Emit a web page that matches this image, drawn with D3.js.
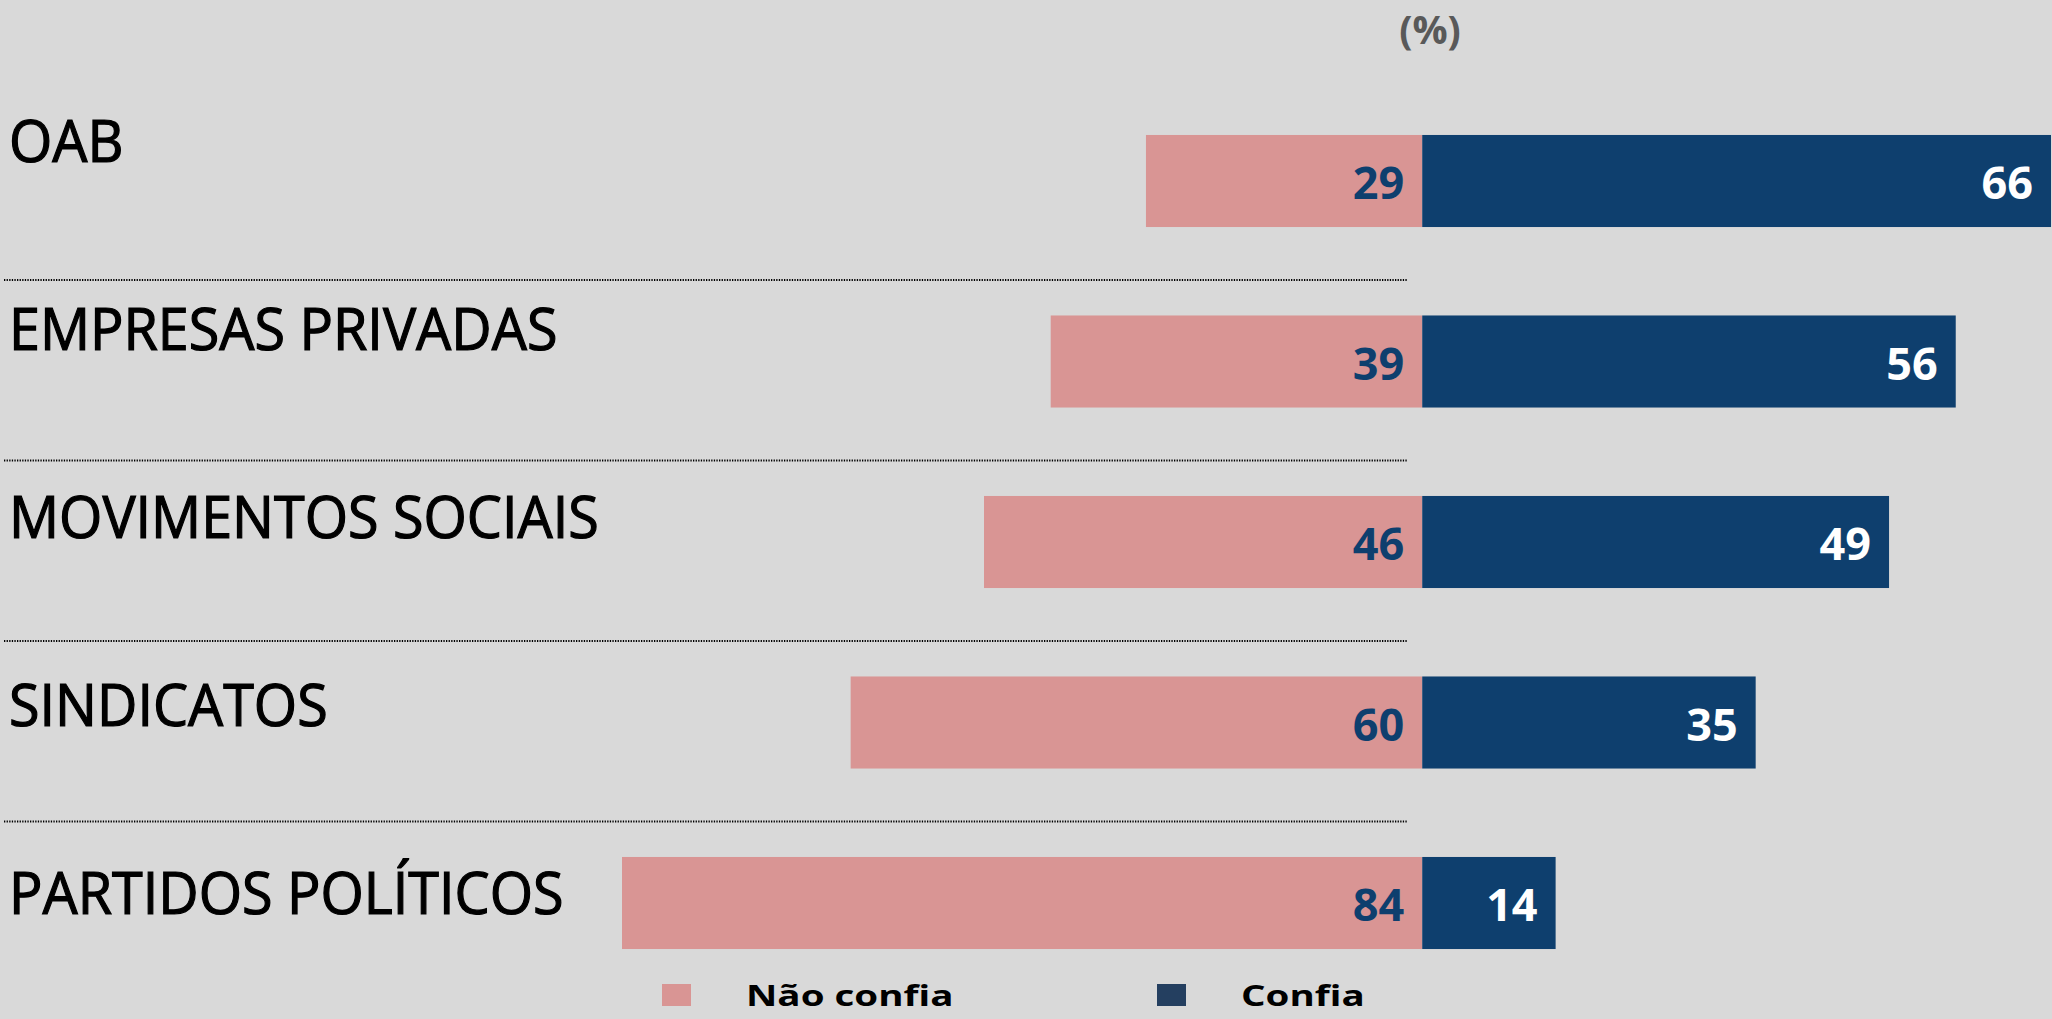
<!DOCTYPE html>
<html>
<head>
<meta charset="utf-8">
<script src="https://cdn.jsdelivr.net/npm/d3@7"></script>
<style>
  body { margin: 0; background: #d9d9d9; }
  svg { display: block; }
</style>
</head>
<body>
<svg id="chart"></svg>
<script>
// Data
const categories = ["OAB", "EMPRESAS PRIVADAS", "MOVIMENTOS SOCIAIS", "SINDICATOS", "PARTIDOS POLÍTICOS"];
const naoConfia = [29, 39, 46, 60, 84];
const confia = [66, 56, 49, 35, 14];
const seriesNames = ["Não confia", "Confia"];
const unitLabel = "(%)";

const width = 2052, height = 1019;
const pink = "#d99594";
const navy = "#0e3f6e";

const svg = d3.select("#chart")
    .attr("width", width)
    .attr("height", height)
    .style("background", "#d9d9d9");

// Scales
const x = d3.scaleLinear()
    .domain([-d3.max(naoConfia), d3.max(confia)])
    .range([622, 2051]);

const y = d3.scaleBand()
    .domain(categories)
    .range([90.75, 993.25])
    .paddingInner(0.49)
    .paddingOuter(0.245);

// category labels sit on their own (hand placed) baseline grid
const yLabel = d3.scalePoint()
    .domain(categories)
    .range([162, 914]);

const rows = categories.map((c, i) => ({ cat: c, neg: naoConfia[i], pos: confia[i] }));

// dotted separators
svg.append("g").selectAll("line")
    .data(categories.slice(0, -1))
    .enter().append("line")
    .attr("x1", 4)
    .attr("x2", 1407)
    .attr("y1", d => y(d) + y.bandwidth() / 2 + 99)
    .attr("y2", d => y(d) + y.bandwidth() / 2 + 99)
    .attr("stroke", "#000")
    .attr("stroke-width", 2)
    .attr("stroke-dasharray", "1.3,1.3");

// category labels
svg.append("g").selectAll("text")
    .data(categories)
    .enter().append("text")
    .attr("transform", d => `translate(9,${yLabel(d)}) scale(0.96,1)`)
    .style("font-family", "'Open Sans', sans-serif")
    .style("font-size", "58px")
    .attr("fill", "#000")
    .attr("stroke", "#000")
    .attr("stroke-width", 1.2)
    .text(d => d);

// bars
const bars = svg.append("g");
bars.selectAll("rect.neg")
    .data(rows)
    .enter().append("rect")
    .attr("class", "neg")
    .attr("x", d => x(-d.neg))
    .attr("y", d => y(d.cat))
    .attr("width", d => x(0) - x(-d.neg))
    .attr("height", y.bandwidth())
    .attr("fill", pink);

bars.selectAll("rect.pos")
    .data(rows)
    .enter().append("rect")
    .attr("class", "pos")
    .attr("x", x(0))
    .attr("y", d => y(d.cat))
    .attr("width", d => x(d.pos) - x(0))
    .attr("height", y.bandwidth())
    .attr("fill", navy);

// value labels
const valueFont = g => g
    .style("font-family", "'Open Sans', sans-serif")
    .style("font-size", "45px")
    .style("font-weight", "bold")
    .attr("text-anchor", "end");

bars.selectAll("text.neg")
    .data(rows)
    .enter().append("text")
    .attr("class", "neg")
    .attr("x", x(0) - 18)
    .attr("y", d => y(d.cat) + y.bandwidth() / 2 + 18)
    .attr("fill", navy)
    .call(valueFont)
    .text(d => d.neg);

bars.selectAll("text.pos")
    .data(rows)
    .enter().append("text")
    .attr("class", "pos")
    .attr("x", d => x(d.pos) - 18)
    .attr("y", d => y(d.cat) + y.bandwidth() / 2 + 18)
    .attr("fill", "#fff")
    .call(valueFont)
    .text(d => d.pos);

// unit label
svg.append("text")
    .attr("x", 1430)
    .attr("y", 44)
    .attr("text-anchor", "middle")
    .attr("fill", "#595959")
    .style("font-family", "'Open Sans', sans-serif")
    .style("font-size", "39px")
    .style("font-weight", "bold")
    .text(unitLabel);

// legend
const legendColors = [pink, "#243f60"];
const legend = svg.append("g").selectAll("g")
    .data(seriesNames)
    .enter().append("g")
    .attr("transform", (d, i) => `translate(${662 + i * 495},984)`);

legend.append("rect")
    .attr("width", 29)
    .attr("height", 22)
    .attr("fill", (d, i) => legendColors[i]);

legend.append("text")
    .attr("transform", "translate(84,22) scale(1.33,1)")
    .style("font-family", "'Open Sans', sans-serif")
    .style("font-size", "29px")
    .style("font-weight", "bold")
    .attr("fill", "#000")
    .text(d => d);
</script>
</body>
</html>
